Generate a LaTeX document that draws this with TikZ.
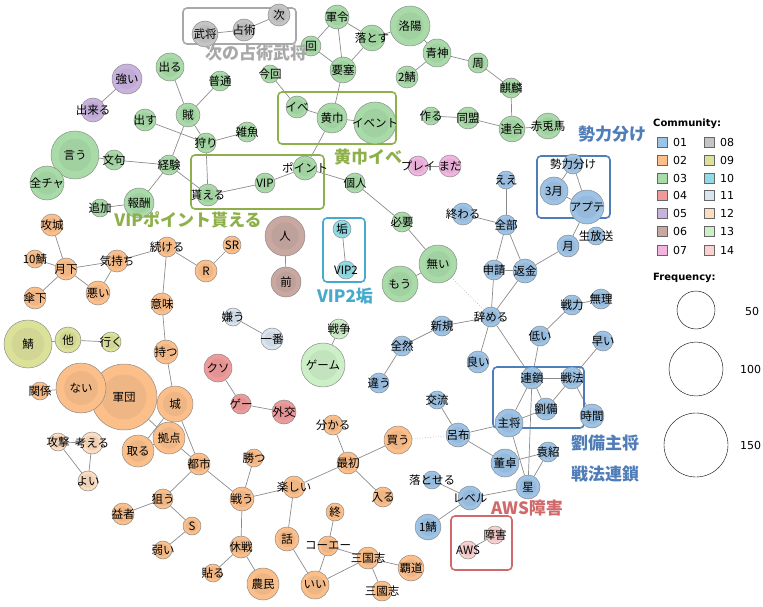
\documentclass[tikz,border=0pt]{standalone}
\usepackage{fontspec}
\setmainfont{Noto Sans CJK JP}
\newfontfamily\lgnd{DejaVu Sans}
\usetikzlibrary{backgrounds}
\definecolor{c01}{HTML}{9DC3E6}
\definecolor{c02}{HTML}{FDBF8A}
\definecolor{c03}{HTML}{A8DBA8}
\definecolor{c04}{HTML}{EE9A9A}
\definecolor{c05}{HTML}{C9B3DE}
\definecolor{c06}{HTML}{C8A8A0}
\definecolor{c07}{HTML}{F1B5E0}
\definecolor{c08}{HTML}{C4C4C4}
\definecolor{c09}{HTML}{DCE19A}
\definecolor{c10}{HTML}{8FDCE6}
\definecolor{c11}{HTML}{D8E4F0}
\definecolor{c12}{HTML}{FDDCC0}
\definecolor{c13}{HTML}{CDEFC8}
\definecolor{c14}{HTML}{FAD0D0}
\definecolor{gG}{HTML}{8DB04A}
\definecolor{gB}{HTML}{4F7DB8}
\definecolor{gC}{HTML}{45AACC}
\definecolor{gR}{HTML}{D06A6A}
\definecolor{gK}{HTML}{A8A8A8}
\tikzset{
 nd/.style={circle,inner sep=0,draw=black!45,line width=0.5pt,fill=#1},
 tx/.style={font=\fontsize{11.5}{12}\selectfont,inner sep=0},
 ed/.style={draw=black!45,line width=0.7pt},
 dt/.style={draw=black!35,line width=0.6pt,dotted},
 grp/.style={draw=#1,rounded corners=4pt,line width=1.6pt},
 gl/.style={font=\fontsize{17}{18}\bfseries\selectfont,text=#1,inner sep=0},
 sw/.style={draw=black!60,fill=#1,minimum size=10pt,inner sep=0},
 lt/.style={font=\lgnd\fontsize{11}{12}\selectfont,anchor=west,inner sep=0}
}
\newcommand\N[6]{\node[nd=#5,minimum size={2*#4pt}] (#1) at (#2,#3) {};
 \fill[#5!88!black!95,opacity=0.45] (#1) circle ({0.68*#4pt});
 \node[tx] at (#1) {#6};}
\begin{document}
\begin{tikzpicture}[x=1pt,y=-1pt]
\useasboundingbox (0,0) rectangle (763,607);
% groups
\draw[grp=gK] (183,8) rectangle (296,44);
\draw[grp=gG] (278,92) rectangle (396,144);
\draw[grp=gG] (191,155) rectangle (324,209);
\draw[grp=gC] (323,218) rectangle (365,282);
\draw[grp=gB] (537,156) rectangle (610,218);
\draw[grp=gB] (493,367) rectangle (584,428);
\draw[grp=gR] (451,516) rectangle (512,570);
% gray
\N{bs}{205}{34}{13}{c08}{武将}
\N{sj}{244}{30}{11}{c08}{占術}
\N{tg}{279}{15}{11}{c08}{次}
% green
\N{gr}{337}{17}{12}{c03}{軍令}
\N{ot}{372}{38}{13}{c03}{落とす}
\N{ry}{410}{26}{20}{c03}{洛陽}
\N{sei}{437}{53}{14}{c03}{青神}
\N{s2}{407}{77}{11}{c03}{2鯖}
\N{shu}{478}{63}{10}{c03}{周}
\N{kr}{511}{88}{10}{c03}{麒麟}
\N{tk}{431}{116}{9}{c03}{作る}
\N{dm}{468}{118}{11}{c03}{同盟}
\N{rg}{512}{129}{13}{c03}{連合}
\N{sk}{548}{126}{13}{c03}{赤兎馬}
\N{ik}{311}{46}{10}{c03}{回}
\N{ys}{343}{70}{13}{c03}{要塞}
\N{kk}{270}{74}{9}{c03}{今回}
\N{der}{170}{67}{14}{c03}{出る}
\N{fu}{220}{81}{10}{c03}{普通}
\N{zk}{188}{115}{12}{c03}{賊}
\N{ds}{145}{120}{11}{c03}{出す}
\N{zg}{247}{132}{10}{c03}{雑魚}
\N{kar}{206}{143}{10}{c03}{狩り}
\N{iu}{75}{155}{24}{c03}{言う}
\N{zc}{47}{183}{17}{c03}{全チャ}
\N{mk}{114}{160}{10}{c03}{文句}
\N{kj}{169}{165}{10}{c03}{経験}
\N{hs}{139}{203}{15}{c03}{報酬}
\N{tu}{100}{208}{9}{c03}{追加}
\N{mr}{208}{195}{11}{c03}{貰える}
\N{vip}{265}{183}{10}{c03}{VIP}
\N{pt}{305}{168}{12}{c03}{ポイント}
\N{ib}{297}{107}{11}{c03}{イベ}
\N{kz}{332}{118}{15}{c03}{黄巾}
\N{ev}{375}{123}{21}{c03}{イベント}
\N{kjn}{355}{183}{10}{c03}{個人}
\N{hy}{402}{222}{10}{c03}{必要}
\N{nai}{438}{264}{19}{c03}{無い}
\N{mou}{400}{284}{18}{c03}{もう}
% pink
\N{pl}{418}{166}{10}{c07}{プレイ}
\N{md}{450}{166}{11}{c07}{まだ}
% cyan
\N{ak}{342}{229}{9}{c10}{垢}
\N{v2}{346}{270}{9}{c10}{VIP2}
% brown
\N{hito}{285}{236}{20}{c06}{人}
\N{mae}{286}{282}{15}{c06}{前}
% purple
\N{tuy}{127}{79}{15}{c05}{強い}
\N{dk}{93}{110}{12}{c05}{出来る}
% blue
\N{ee}{506}{180}{9}{c01}{ええ}
\N{ow}{463}{214}{11}{c01}{終わる}
\N{zb}{506}{225}{10}{c01}{全部}
\N{m3}{554}{191}{14}{c01}{3月}
\N{sry}{573}{164}{10}{c01}{勢力分け}
\N{ap}{587}{207}{17}{c01}{アプテ}
\N{nh}{596}{236}{9}{c01}{生放送}
\N{tki}{568}{246}{11}{c01}{月}
\N{ss}{494}{270}{10}{c01}{申請}
\N{hk}{525}{271}{12}{c01}{返金}
\N{sr}{572}{305}{10}{c01}{戦力}
\N{mu}{601}{299}{10}{c01}{無理}
\N{ym}{491}{317}{10}{c01}{辞める}
\N{sk2}{442}{326}{10}{c01}{新規}
\N{hi}{540}{336}{10}{c01}{低い}
\N{ha}{603}{341}{10}{c01}{早い}
\N{zz}{402}{346}{10}{c01}{全然}
\N{yo}{478}{362}{11}{c01}{良い}
\N{ch}{379}{383}{10}{c01}{違う}
\N{rs}{532}{378}{11}{c01}{連鎖}
\N{sh}{572}{378}{11}{c01}{戦法}
\N{rb}{546}{409}{11}{c01}{劉備}
\N{jk}{592}{416}{12}{c01}{時間}
\N{shs}{509}{423}{14}{c01}{主将}
\N{kr2}{437}{400}{9}{c01}{交流}
\N{rf}{458}{435}{12}{c01}{呂布}
\N{tt}{505}{463}{14}{c01}{董卓}
\N{es}{548}{452}{10}{c01}{袁紹}
\N{hsh}{528}{487}{12}{c01}{星}
\N{os}{432}{480}{9}{c01}{落とせる}
\N{lv}{470}{498}{12}{c01}{レベル}
\N{s1}{428}{527}{13}{c01}{1鯖}
% pink 14
\N{sg}{495}{535}{9}{c14}{障害}
\N{aws}{468}{550}{9}{c14}{AWS}
% orange
\N{ka}{398}{440}{14}{c02}{買う}
\N{kjo}{52}{225}{11}{c02}{攻城}
\N{s10}{35}{259}{9}{c02}{10鯖}
\N{gk}{66}{269}{11}{c02}{月下}
\N{sanka}{35}{298}{11}{c02}{傘下}
\N{wr}{98}{293}{12}{c02}{悪い}
\N{km}{117}{261}{11}{c02}{気持ち}
\N{tz}{167}{247}{10}{c02}{続ける}
\N{R}{206}{271}{11}{c02}{R}
\N{SR}{232}{245}{9}{c02}{SR}
\N{im}{162}{304}{11}{c02}{意味}
\N{mt}{166}{352}{12}{c02}{持つ}
\N{gd}{124}{397}{33}{c02}{軍団}
\N{na}{81}{388}{25}{c02}{ない}
\N{kn}{40}{391}{9}{c02}{関係}
\N{sir}{175}{404}{18}{c02}{城}
\N{kt}{169}{438}{16}{c02}{拠点}
\N{tr}{138}{451}{16}{c02}{取る}
\N{ts}{199}{464}{11}{c02}{都市}
\N{ktu}{254}{458}{9}{c02}{勝つ}
\N{tt2}{242}{499}{12}{c02}{戦う}
\N{tn}{294}{487}{11}{c02}{楽しい}
\N{wk}{333}{425}{10}{c02}{分かる}
\N{sso}{348}{463}{11}{c02}{最初}
\N{hr}{383}{497}{10}{c02}{入る}
\N{nr}{163}{499}{10}{c02}{狙う}
\N{ek}{123}{514}{11}{c02}{益者}
\N{S}{192}{526}{9}{c02}{S}
\N{yw}{163}{550}{9}{c02}{弱い}
\N{ks}{241}{547}{11}{c02}{休戦}
\N{hru}{213}{573}{9}{c02}{貼る}
\N{nm}{263}{584}{16}{c02}{農民}
\N{hn}{287}{539}{12}{c02}{話}
\N{ow2}{335}{512}{9}{c02}{終}
\N{ke}{328}{546}{10}{c02}{コーエー}
\N{sg1}{368}{558}{11}{c02}{三国志}
\N{ii}{315}{585}{14}{c02}{いい}
\N{hd}{411}{568}{13}{c02}{覇道}
\N{sg2}{382}{591}{10}{c02}{三國志}
% light orange
\N{kg}{58}{442}{9}{c12}{攻撃}
\N{kga}{92}{443}{11}{c12}{考える}
\N{yoi}{88}{481}{10}{c12}{よい}
% red
\N{ks2}{218}{368}{14}{c04}{クソ}
\N{ge}{241}{404}{10}{c04}{ゲー}
\N{gko}{284}{412}{12}{c04}{外交}
% light blue
\N{kiu}{233}{317}{9}{c11}{嫌う}
\N{ib2}{272}{339}{11}{c11}{一番}
% light green
\N{ss2}{339}{329}{10}{c13}{戦争}
\N{gm}{323}{365}{22}{c13}{ゲーム}
% olive
\N{sb}{28}{344}{24}{c09}{鯖}
\N{ta}{68}{340}{13}{c09}{他}
\N{ik2}{111}{342}{10}{c09}{行く}
\begin{scope}[on background layer]
\foreach \a/\b in {bs/sj,sj/tg,gr/ik,gr/ys,ik/ys,ot/ys,gr/ot,ot/ry,ry/sei,sei/s2,sei/shu,shu/kr,kr/rg,tk/dm,dm/rg,rg/sk,
 ys/kz,kk/ib,ib/kz,kz/ev,kz/pt,pt/vip,vip/mr,pt/kjn,kjn/hy,hy/nai,nai/mou,
 der/zk,fu/zk,zk/kar,zk/kj,ds/kar,kar/zg,kar/mr,iu/mk,mk/kj,iu/zc,kj/mr,kj/hs,hs/tu,tuy/dk,pl/md,ak/v2,hito/mae,
 ee/zb,ow/zb,zb/ss,zb/hk,ss/hk,hk/tki,tki/ap,sry/m3,sry/ap,m3/ap,ss/ym,hk/ym,ym/sk2,sk2/zz,zz/ch,ym/yo,ym/rs,
 sr/mu,sr/hi,hi/rs,ha/sh,rs/sh,rs/shs,rs/rb,rs/hsh,sh/rb,sh/jk,rb/shs,shs/rf,shs/hsh,kr2/rf,rf/tt,tt/es,es/hsh,hsh/lv,os/lv,lv/s1,sg/aws,
 kjo/gk,s10/gk,gk/sanka,gk/wr,gk/km,km/wr,km/tz,tz/R,R/SR,tz/im,im/mt,mt/sir,kn/na,na/gd,gd/kt,sir/kt,sir/tr,tr/kt,sir/ts,kt/ts,
 ts/nr,ts/tt2,nr/ek,nr/S,S/yw,tt2/ktu,tt2/tn,tt2/ks,ks/hru,ks/nm,tn/hn,tn/sso,sso/wk,sso/hr,sso/ka,hn/ii,ii/ke,ke/ow2,ke/sg1,ii/sg1,sg1/hd,sg1/sg2,
 kg/kga,kg/yoi,kga/yoi,ks2/ge,ge/gko,kiu/ib2,ss2/gm,sb/ta,ta/ik2}
 {\draw[ed] (\a) -- (\b);}
\draw[dt] (nai) -- (ym);
\draw[dt] (ka) -- (rf);
\end{scope}
% group labels
\node[gl=gK] (l1) at (256,53) {次の占術武将};
\node[gl=gG] (l2) at (368,157) {黄巾イベ};
\node[gl=gG] (l3) at (188,220) {VIPポイント貰える};
\node[gl=gC] (l4) at (345,296) {VIP2垢};
\node[gl=gB] (l5) at (612,134) {勢力分け};
\node[gl=gB] (l6) at (605,443) {劉備主将};
\node[gl=gB] (l7) at (605,474) {戦法連鎖};
\node[gl=gR] (l8) at (527,508) {AWS障害};
% legend
\node[lt,font=\lgnd\bfseries\fontsize{10}{12}\selectfont] (lc) at (653,124) {Community:};
\foreach \c/\y [count=\i] in {01/142,02/160,03/178,04/195,05/213,06/231,07/250}{
 \node[sw=c\c] (sa\i) at (662,\y) {}; \node[lt] (ta\i) at (673,\y) {\c};}
\foreach \c/\y [count=\i] in {08/142,09/160,10/178,11/195,12/213,13/231,14/250}{
 \node[sw=c\c] (sb\i) at (709,\y) {}; \node[lt] (tb\i) at (720,\y) {\c};}
\node[lt,font=\lgnd\bfseries\fontsize{10}{12}\selectfont] (lf) at (653,278) {Frequency:};
\node[circle,draw,minimum size=38pt,inner sep=0] (f1) at (696,310) {};
\node[circle,draw,minimum size=54pt,inner sep=0] (f2) at (696,369) {};
\node[circle,draw,minimum size=64pt,inner sep=0] (f3) at (696,445) {};
\node[lt] (n1) at (745,311) {50};
\node[lt] (n2) at (740,369) {100};
\node[lt] (n3) at (740,445) {150};
\end{tikzpicture}
\end{document}
